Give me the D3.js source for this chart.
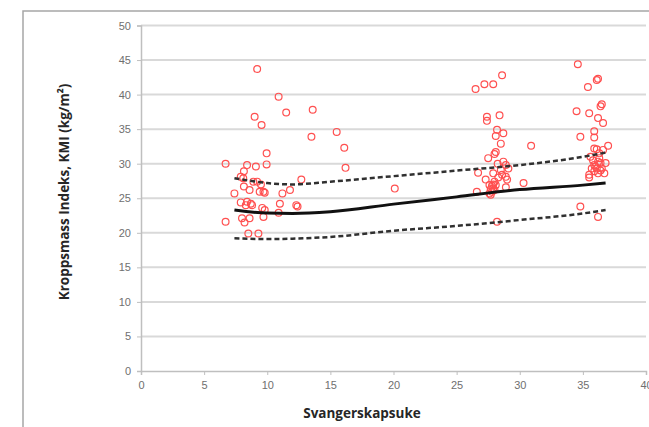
<!DOCTYPE html>
<html lang="no">
<head>
<meta charset="UTF-8">
<script src="https://d3js.org/d3.v7.min.js"></script>
<style>
    body { margin:0; background:#fff; font-family:"Open Sans", "Liberation Sans", sans-serif; }
    .grid line { stroke:#d9d9d9; stroke-width:2; }
    .tick text { fill:#6f6f6f; font-size:11px; }
    .axis path, .axis line { stroke:#bfbfbf; }
    .dot { fill:none; stroke:#ff5050; stroke-width:1.2; }
    .title { font-weight:bold; fill:#262626; font-size:13.5px; }
</style>
</head>
<body>
<svg id="chart" width="649" height="427"></svg>
<script>
// axis ticks
var xTicks = [0, 5, 10, 15, 20, 25, 30, 35, 40];
var yTicks = [0, 5, 10, 15, 20, 25, 30, 35, 40, 45, 50];

// individual measurements: gestational week and BMI
var weeks = [6.7, 6.7, 7.4, 7.9, 8.15, 7.9, 8.0, 8.2, 8.15, 8.4, 8.4, 8.5, 8.6, 8.6, 8.7, 8.9, 9.0, 9.1, 9.2, 9.2,
    9.3, 9.4, 9.55, 9.6, 9.7, 9.7, 9.8, 9.95, 9.95, 9.8, 10.9, 11.0, 10.9, 11.2, 11.5, 11.8, 12.3, 12.4, 12.7, 13.5,
    13.6, 15.5, 16.1, 16.2, 20.1, 8.1, 8.3, 8.8, 9.5,
    26.5, 27.2, 27.9, 28.6, 26.6, 26.7, 27.4, 27.4, 27.5, 27.3, 27.6, 27.8, 27.7, 27.9, 28.0, 27.9, 28.0, 28.1, 28.1,
    28.2, 28.25, 28.2, 28.4, 28.5, 28.5, 28.6, 28.7, 28.7, 28.9, 28.9, 29.0, 28.9, 29.1, 30.3, 30.9, 27.8, 27.9, 28.0,
    27.7, 28.1, 28.3, 27.6,
    34.6, 34.5, 34.8, 34.8, 35.4, 35.5, 36.1, 36.2, 36.4, 36.5, 36.2, 36.6, 35.9, 35.9, 35.9, 36.1, 37.0, 36.2, 35.6,
    35.9, 35.7, 35.5, 35.5, 35.9, 36.3, 36.4, 36.5, 36.7, 36.2, 36.1, 36.3, 36.6, 36.8, 36.0, 36.2, 36.4, 35.8];
var bmi = [30.0, 21.6, 25.7, 28.1, 28.9, 24.4, 22.1, 21.5, 26.7, 29.8, 24.5, 19.9, 26.2, 22.1, 24.2, 27.4, 36.8, 29.6, 43.7, 27.4,
    19.9, 25.95, 35.6, 23.6, 22.3, 25.95, 23.3, 31.5, 29.9, 25.8, 39.7, 24.2, 22.9, 25.7, 37.4, 26.2, 24.0, 23.8, 27.7, 33.9,
    37.8, 34.6, 32.3, 29.4, 26.4, 27.9, 24.0, 24.0, 27.0,
    40.8, 41.5, 41.5, 42.8, 25.95, 28.7, 36.8, 36.2, 30.8, 27.7, 26.9, 25.95, 25.5, 26.4, 27.4, 28.6, 31.4, 31.7, 34.0,
    34.9, 30.0, 21.6, 37.0, 32.9, 29.1, 28.4, 34.4, 30.3, 29.8, 28.1, 27.7, 26.6, 29.3, 27.2, 32.6, 26.8, 27.0, 26.2,
    26.3, 26.9, 28.0, 25.7,
    44.4, 37.6, 33.9, 23.8, 41.1, 37.3, 42.1, 42.3, 38.3, 38.6, 36.6, 35.9, 34.7, 33.8, 32.2, 32.1, 32.6, 22.3, 31.0,
    29.8, 29.3, 28.4, 28.0, 28.9, 30.8, 30.1, 29.3, 28.6, 28.6, 29.3, 31.5, 32.0, 30.1, 29.6, 30.3, 29.0, 30.5];

// fitted mean and limits
var curveWeeks = [7.4, 10, 12, 15, 20, 25, 30, 35, 36.8];
var meanBmi  = [23.3, 22.85, 22.8, 23.05, 24.15, 25.2, 26.25, 26.9, 27.2];
var upperBmi = [27.9, 27.2, 27.0, 27.4, 28.2, 29.0, 29.8, 31.0, 31.6];
var lowerBmi = [19.2, 19.1, 19.15, 19.4, 20.3, 21.0, 21.85, 22.8, 23.3];

var svg = d3.select("#chart");

// outer chart frame
svg.append("rect")
    .attr("x", 23).attr("y", 11)
    .attr("width", 700).attr("height", 500)
    .attr("fill", "none").attr("stroke", "#a6a6a6").attr("stroke-width", 1.5);

var x = d3.scaleLinear().domain([0, 40]).range([141, 646]);
var y = d3.scaleLinear().domain([0, 50]).range([371, 25.5]);

// horizontal gridlines
svg.append("g").attr("class", "grid")
    .selectAll("line").data(yTicks.slice(1)).enter().append("line")
    .attr("x1", x(0)).attr("x2", x(40))
    .attr("y1", function(d) { return y(d); })
    .attr("y2", function(d) { return y(d); });

svg.append("g").attr("class", "axis")
    .attr("transform", "translate(0," + y(0) + ")")
    .call(d3.axisBottom(x).tickValues(xTicks).tickSize(4).tickPadding(6));

svg.append("g").attr("class", "axis")
    .attr("transform", "translate(" + x(0) + ",0)")
    .call(d3.axisLeft(y).tickValues(yTicks).tickSize(4).tickPadding(6));

svg.selectAll(".axis .domain").attr("stroke-width", 1.5);

// points
svg.selectAll(".dot")
    .data(weeks).enter().append("circle")
    .attr("class", "dot")
    .attr("cx", function(d) { return x(d); })
    .attr("cy", function(d, i) { return y(bmi[i]); })
    .attr("r", 3.4);

var line = d3.line()
    .x(function(d, i) { return x(curveWeeks[i]); })
    .y(function(d) { return y(d); })
    .curve(d3.curveMonotoneX);

svg.append("path").attr("d", line(upperBmi))
    .attr("fill", "none").attr("stroke", "#303030").attr("stroke-width", 2.5)
    .attr("stroke-dasharray", "5,3");
svg.append("path").attr("d", line(lowerBmi))
    .attr("fill", "none").attr("stroke", "#303030").attr("stroke-width", 2.5)
    .attr("stroke-dasharray", "5,3");
svg.append("path").attr("d", line(meanBmi))
    .attr("fill", "none").attr("stroke", "#111").attr("stroke-width", 3);

svg.append("text").attr("class", "title")
    .attr("x", 362).attr("y", 418)
    .attr("text-anchor", "middle")
    .text("Svangerskapsuke");

svg.append("text").attr("class", "title")
    .attr("transform", "translate(69,192) rotate(-90)")
    .attr("text-anchor", "middle")
    .text("Kroppsmass Indeks, KMI (kg/m²)");
</script>
</body>
</html>
